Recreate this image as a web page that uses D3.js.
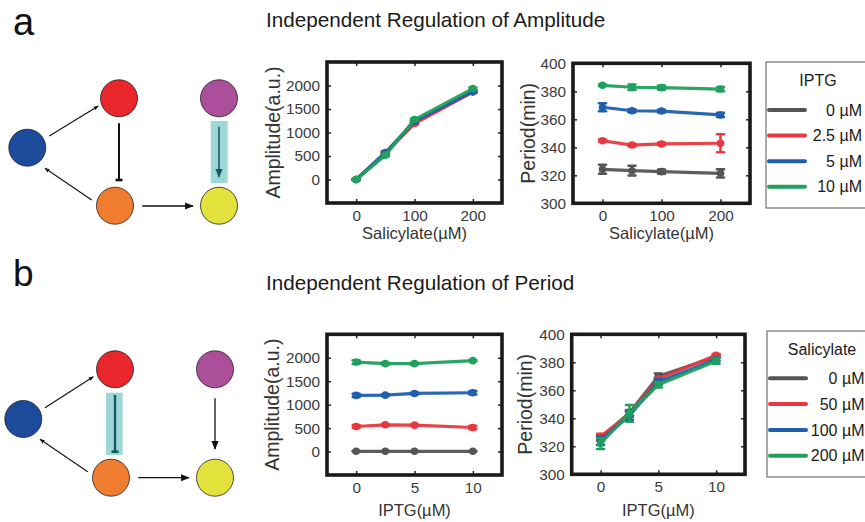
<!DOCTYPE html>
<html>
<head>
<meta charset="utf-8">
<script src="https://cdn.jsdelivr.net/npm/d3@7"></script>
<style>
  body { margin: 0; background: #fff; }
  svg { font-family: "Liberation Sans", Arial, sans-serif; }
</style>
</head>
<body>
<div id="chart"></div>
<script>
// ---- data ----
const salicylate = [0, 50, 100, 200];
const iptg = [0, 2.5, 5, 10];
const iptgLabels = ["0 µM", "2.5 µM", "5 µM", "10 µM"];
const salLabels = ["0 µM", "50 µM", "100 µM", "200 µM"];
const seriesColors = ["#555555", "#e8383f", "#1f5fae", "#20a05c"];

// panel a: x = salicylate, one series per IPTG level
const ampA = [
  [0, 550, 1210, 1880],
  [0, 560, 1190, 1860],
  [0, 575, 1240, 1870],
  [0, 515, 1275, 1935]
];
const ampAErr = [
  [10, 20, 20, 20],
  [10, 20, 20, 20],
  [10, 25, 20, 25],
  [10, 20, 25, 20]
];
const perA = [
  [324.3, 323.3, 322.6, 321.4],
  [344.7, 341.6, 342.4, 342.9],
  [368.6, 366.1, 365.9, 363.1],
  [384.3, 382.9, 382.6, 381.6]
];
const perAErr = [
  [3.2, 3.5, 1.5, 3],
  [0.8, 1, 1, 6.4],
  [2.8, 1, 1, 1.5],
  [0.5, 2, 1.5, 1.5]
];

// panel b: x = IPTG, one series per salicylate level
const ampB = [
  [5, 5, 5, 5],
  [534, 570, 563, 513],
  [1197, 1203, 1239, 1254],
  [1908, 1874, 1874, 1938]
];
const ampBErr = [
  [5, 5, 5, 5],
  [30, 15, 15, 35],
  [35, 20, 20, 35],
  [40, 20, 20, 15]
];
const perB = [
  [326, 344, 370, 384],
  [327, 343, 368, 385],
  [324, 342, 366, 382],
  [322, 343.5, 364, 381]
];
const perBErr = [
  [2, 2, 2, 1],
  [2, 2, 1, 1],
  [3, 3, 2, 1],
  [4, 6, 2, 2]
];

const ampTicks = [0, 500, 1000, 1500, 2000];
const perTicks = [300, 320, 340, 360, 380, 400];

// ---- drawing ----
const W = 865, H = 522;
const svg = d3.select("#chart").append("svg")
  .attr("width", W).attr("height", H);

const defs = svg.append("defs");
function head(id, size, col) {
  defs.append("marker").attr("id", id)
    .attr("viewBox", "0 0 10 10").attr("refX", 9).attr("refY", 5)
    .attr("markerWidth", size).attr("markerHeight", size).attr("markerUnits", "userSpaceOnUse")
    .attr("orient", "auto")
    .append("path").attr("d", "M0,1 L10,5 L0,9 Z").attr("fill", col);
}
head("head", 9, "#111");
head("headSmall", 5, "#111");
head("headTeal", 9, "#145b5e");

function chart(o) {
  const g = svg.append("g");
  const x = d3.scaleLinear().domain(o.xDomain).range([o.left, o.right]);
  const y = d3.scaleLinear().domain(o.yDomain).range([o.bottom, o.top]);

  // inward ticks on all four sides
  const fmt = d3.format("d");
  const ax = [
    [d3.axisBottom(x).tickValues(o.xTicks).tickSize(-4).tickPadding(7).tickFormat(fmt), `translate(0,${o.bottom})`],
    [d3.axisTop(x).tickValues(o.xTicks).tickSize(-4).tickFormat(""), `translate(0,${o.top})`],
    [d3.axisLeft(y).tickValues(o.yTicks).tickSize(-4).tickPadding(7).tickFormat(fmt), `translate(${o.left},0)`],
    [d3.axisRight(y).tickValues(o.yTicks).tickSize(-4).tickFormat(""), `translate(${o.right},0)`]
  ];
  ax.forEach(([a, t]) => {
    const ag = g.append("g").attr("transform", t).call(a);
    ag.select(".domain").remove();
    ag.selectAll("line").attr("stroke", "#222").attr("stroke-width", 1.5);
    ag.selectAll("text").attr("font-size", 15.3).attr("fill", "#3a3a3a")
      .attr("font-family", "Liberation Sans, Arial, sans-serif");
  });

  const line = d3.line().x((d, i) => x(o.xs[i])).y(d => y(d));
  o.values.forEach((s, k) => {
    const col = seriesColors[k];
    const sg = g.append("g");
    sg.append("path").datum(s).attr("d", line)
      .attr("fill", "none").attr("stroke", col).attr("stroke-width", 3.2)
      .attr("stroke-linejoin", "round").attr("opacity", 0.95);
    s.forEach((v, i) => {
      const e = o.errs[k][i];
      const cx = x(o.xs[i]);
      sg.append("line").attr("x1", cx).attr("x2", cx)
        .attr("y1", y(v - e)).attr("y2", y(v + e))
        .attr("stroke", col).attr("stroke-width", 2.5);
      [v - e, v + e].forEach(ev => {
        sg.append("line").attr("x1", cx - 3.5).attr("x2", cx + 3.5)
          .attr("y1", y(ev)).attr("y2", y(ev))
          .attr("stroke", col).attr("stroke-width", 2.5).attr("stroke-linecap", "round");
      });
      sg.append("circle").attr("cx", cx).attr("cy", y(v)).attr("r", 3.8).attr("fill", col);
    });
  });

  // thick frame
  g.append("rect")
    .attr("x", o.left).attr("y", o.top)
    .attr("width", o.right - o.left).attr("height", o.bottom - o.top)
    .attr("fill", "none").attr("stroke", "#1a1a1a").attr("stroke-width", 3.6);

  g.append("text").attr("x", (o.left + o.right) / 2).attr("y", o.xLabelY)
    .attr("text-anchor", "middle").attr("font-size", 16.5).attr("fill", "#333")
    .text(o.xLabel);
  g.append("text")
    .attr("transform", `translate(${o.yLabelX},${(o.top + o.bottom) / 2}) rotate(-90)`)
    .attr("text-anchor", "middle").attr("dy", "0.35em")
    .attr("font-size", 19.5).attr("fill", "#333")
    .text(o.yLabel);
}

function legend(o) {
  const g = svg.append("g");
  g.append("rect").attr("x", o.x).attr("y", o.y).attr("width", 120).attr("height", o.h)
    .attr("fill", "#fff").attr("stroke", "#555").attr("stroke-width", 1);
  g.append("text").attr("x", o.titleX).attr("y", o.titleY).attr("text-anchor", "middle")
    .attr("dy", "0.35em").attr("font-size", 16).attr("fill", "#1a1a1a").text(o.title);
  o.labels.forEach((lab, i) => {
    const yy = o.firstY + i * o.step;
    g.append("line").attr("x1", o.x + 3).attr("x2", o.x + 39).attr("y1", yy).attr("y2", yy)
      .attr("stroke", seriesColors[i]).attr("stroke-width", 4).attr("stroke-linecap", "round");
    g.append("text").attr("x", o.textX).attr("y", yy).attr("dy", "0.35em")
      .attr("text-anchor", "end").attr("font-size", 16).attr("fill", "#1a1a1a").text(lab);
  });
}

function network(o) {
  const g = svg.append("g");
  // highlight box
  g.append("rect").attr("x", o.hl[0]).attr("y", o.hl[1]).attr("width", o.hl[2]).attr("height", o.hl[3])
    .attr("fill", "#9fd7d9");
  const edge = (x1, y1, x2, y2, kind, col) => {
    const l = g.append("line").attr("x1", x1).attr("y1", y1).attr("x2", x2).attr("y2", y2)
      .attr("stroke", col || "#111");
    if (kind === "small") l.attr("stroke-width", 1.1).attr("marker-end", "url(#headSmall)");
    if (kind === "arrow") l.attr("stroke-width", 1.3).attr("marker-end", "url(#head)");
    if (kind === "teal") l.attr("stroke-width", 1.6).attr("marker-end", "url(#headTeal)");
    if (kind === "bar" || kind === "tealbar") {
      l.attr("stroke-width", kind === "bar" ? 2 : 2.4);
      g.append("line").attr("x1", x2 - 3.5).attr("x2", x2 + 3.5).attr("y1", y2).attr("y2", y2)
        .attr("stroke", col || "#111").attr("stroke-width", 2.6);
    }
  };
  o.edges.forEach(e => edge(...e));
  o.nodes.forEach(d => {
    g.append("circle").attr("cx", d[0]).attr("cy", d[1]).attr("r", 18.5)
      .attr("fill", d[2]).attr("stroke", "#222").attr("stroke-width", 0.8);
  });
}

// panel letters and titles
svg.append("text").attr("x", 13).attr("y", 35).attr("font-size", 38).attr("fill", "#111").text("a");
svg.append("text").attr("x", 13).attr("y", 286).attr("font-size", 37).attr("fill", "#111").text("b");
svg.append("text").attr("x", 266).attr("y", 27).attr("font-size", 20.7).attr("fill", "#1a1a1a")
  .text("Independent Regulation of Amplitude");
svg.append("text").attr("x", 266).attr("y", 290).attr("font-size", 20.7).attr("fill", "#1a1a1a")
  .text("Independent Regulation of Period");

const cBlue = "#1c4b9c", cRed = "#e9262c", cPurple = "#ab4f9b", cOrange = "#f07c30", cYellow = "#e3e23d";

network({
  nodes: [[27.3, 147.7, cBlue], [119, 98.3, cRed], [219, 98.3, cPurple], [115, 205.7, cOrange], [219, 205.7, cYellow]],
  hl: [210.7, 121, 17, 62.3],
  edges: [
    [49.3, 136, 98.3, 106, "small"],
    [119, 123.3, 119, 180, "bar"],
    [91.7, 200, 45, 168.3, "small"],
    [142.3, 206, 193, 206, "arrow"],
    [219, 126.7, 219, 177, "teal", "#145b5e"]
  ]
});
network({
  nodes: [[23.3, 419, cBlue], [115, 369.3, cRed], [215, 369.3, cPurple], [111, 477.7, cOrange], [215, 477.7, cYellow]],
  hl: [106, 392.7, 16.7, 62.3],
  edges: [
    [45, 407.7, 93.3, 376.7, "small"],
    [115, 395, 115, 451.7, "tealbar", "#145b5e"],
    [87.7, 471.7, 40, 439.3, "small"],
    [138.3, 477.7, 189, 477.7, "arrow"],
    [215, 398.3, 215, 449, "arrow"]
  ]
});

chart({
  left: 327, right: 502, top: 62, bottom: 203,
  xDomain: [-50, 250], yDomain: [-500, 2500],
  xTicks: [0, 100, 200], yTicks: ampTicks,
  xs: salicylate, values: ampA, errs: ampAErr,
  xLabel: "Salicylate(µM)", xLabelY: 239, yLabel: "Amplitude(a.u.)", yLabelX: 273
});
chart({
  left: 573, right: 750, top: 63.3, bottom: 203.3,
  xDomain: [-50, 250], yDomain: [300, 400],
  xTicks: [0, 100, 200], yTicks: perTicks,
  xs: salicylate, values: perA, errs: perAErr,
  xLabel: "Salicylate(µM)", xLabelY: 239, yLabel: "Period(min)", yLabelX: 528
});
chart({
  left: 327, right: 502, top: 334.3, bottom: 475,
  xDomain: [-2.5, 12.5], yDomain: [-500, 2500],
  xTicks: [0, 5, 10], yTicks: ampTicks,
  xs: iptg, values: ampB, errs: ampBErr,
  xLabel: "IPTG(µM)", xLabelY: 516, yLabel: "Amplitude(a.u.)", yLabelX: 272
});
chart({
  left: 571.7, right: 745, top: 334.3, bottom: 474.3,
  xDomain: [-2.5, 12.5], yDomain: [300, 400],
  xTicks: [0, 5, 10], yTicks: perTicks,
  xs: iptg, values: perB, errs: perBErr,
  xLabel: "IPTG(µM)", xLabelY: 516, yLabel: "Period(min)", yLabelX: 525
});

legend({ x: 766, y: 62, h: 146, title: "IPTG", titleX: 818, titleY: 80,
  labels: iptgLabels, firstY: 110, step: 25.6, textX: 862 });
legend({ x: 767, y: 331, h: 146, title: "Salicylate", titleX: 822, titleY: 349,
  labels: salLabels, firstY: 378.3, step: 25.8, textX: 864.5 });
</script>
</body>
</html>
